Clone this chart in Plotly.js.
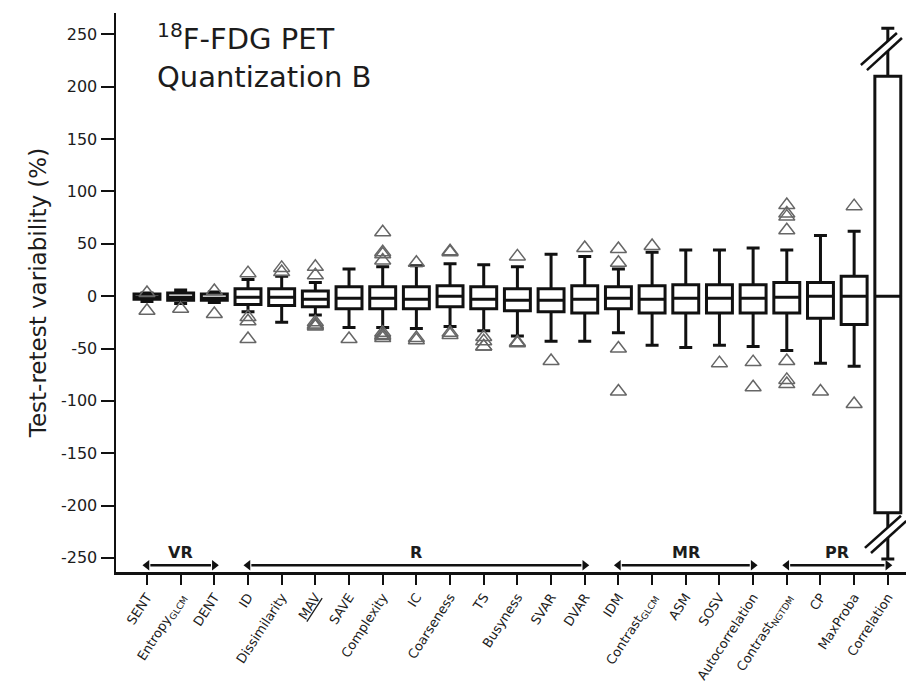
<!DOCTYPE html>
<html>
<head>
<meta charset="utf-8">
<script src="https://cdn.plot.ly/plotly-3.0.1.min.js"></script>
<style>html,body{margin:0;padding:0;background:#fff;}#chart{width:906px;height:684px;}</style>
</head>
<body>
<div id="chart"></div>
<script>
// ---- data ----
const categories = ['SENT','Entropy<sub>GLCM</sub>','DENT','ID','Dissimilarity',
  '<span style="text-decoration:underline">MAV</span>','SAVE','Complexity','IC','Coarseness','TS',
  'Busyness','SVAR','DVAR','IDM','Contrast<sub>GLCM</sub>','ASM','SOSV','Autocorrelation',
  'Contrast<sub>NGTDM</sub>','CP','MaxProba','Correlation'];
const q1Values     = [-3,-4,-4,-8,-9,-10,-12,-12,-12,-10,-12,-14,-15,-16,-12,-16,-16,-16,-16,-16,-21,-27,-207];
const medianValues = [-1,-1,-2,-1,-1,-3,-2,-2,-3,0,-3,-4,-4,-3,-2,-3,-2,-2,-2,-1,0,0,0];
const q3Values     = [2,3,2,7,7,5,9,9,9,10,9,7,7,10,9,10,11,11,11,13,13,19,210];
const lowerWhisker = [-5,-7,-6,-15,-25,-18,-30,-30,-31,-29,-33,-38,-43,-43,-35,-47,-49,-47,-48,-52,-64,-67,-251];
const upperWhisker = [3,6,4,16,19,13,26,28,29,31,30,28,40,38,26,42,44,44,46,44,58,62,256];
const outlierValues = [
  [3,-14],[-12],[5,-17],[22,-20,-24,-41],[23,27],[28,20,-25,-27,-28,-29],[-41],
  [61,42,40,34,-35,-37,-38,-40],[32,-40,-42],[43,42,-35,-37],[-39,-43,-48,-48],
  [38,-44,-45],[-62],[46],[45,32,-50,-91],[48],[],[-64],[-63,-87],
  [87,79,76,63,-62,-80,-84],[-91],[86,-103],[]
];
const groupLabels = ['VR','R','MR','PR'];
const groupStart  = [0,3,14,19];
const groupEnd    = [2,13,18,22];
const yTicks = [-250,-200,-150,-100,-50,0,50,100,150,200,250];
const yTickText = ['-250','-200','-150','-100','-50','0','50','100','150','200','250'];

// ---- build ----
const idx = categories.map((c,i)=>i);
const outX = [], outY = [];
outlierValues.forEach((arr,i)=>arr.forEach(v=>{outX.push(i);outY.push(v);}));

const FONT = 'DejaVu Sans, Verdana, sans-serif';
const INK = '#1c1c1c';
const ARROW_Y = -257;

const boxTrace = {
  type:'box', x: idx, q1: q1Values, median: medianValues, q3: q3Values,
  lowerfence: lowerWhisker, upperfence: upperWhisker,
  width: 0.77, whiskerwidth: 0.5, boxpoints: false,
  line:{color:'#111', width:3}, fillcolor:'rgba(255,255,255,1)',
  showlegend:false, hoverinfo:'skip'
};
const outTrace = {
  type:'scatter', mode:'markers', x: outX, y: outY,
  marker:{symbol:'triangle-up-open', size:14, color:'#666', line:{width:1.5, color:'#666'}},
  showlegend:false, hoverinfo:'skip'
};
const headX = [], headY = [], headSym = [];
groupStart.forEach((s,i)=>{
  headX.push(s, groupEnd[i]); headY.push(ARROW_Y, ARROW_Y);
  headSym.push('triangle-left','triangle-right');
});
const headTrace = {
  type:'scatter', mode:'markers', x: headX, y: headY,
  marker:{symbol: headSym, size:9, color:'#111', line:{width:0}},
  showlegend:false, hoverinfo:'skip', cliponaxis:false
};

const annotations = [{
  xref:'paper', yref:'paper', x:0.049, y:0.995, xanchor:'left', yanchor:'top', align:'left',
  text:'<sup>18</sup>F-FDG PET<br>Quantization B', showarrow:false,
  font:{family:FONT, size:29, color:INK}
}];
groupLabels.forEach((g,i)=>{
  annotations.push({
    xref:'x', yref:'y', x:(groupStart[i]+groupEnd[i])/2, y:-245,
    text:'<b>'+g+'</b>', showarrow:false, font:{family:FONT, size:16, color:INK}
  });
});

function brk(x1,y1,x2,y2){return {type:'line',xref:'x',yref:'y',x0:x1,y0:y1,x1:x2,y1:y2,line:{color:'#111',width:2.5},layer:'above'};}
function band(a,b,c,d){return {type:'path',xref:'x',yref:'y',layer:'above',fillcolor:'#fff',line:{width:0},
  path:`M${a[0]},${a[1]} L${b[0]},${b[1]} L${c[0]},${c[1]} L${d[0]},${d[1]} Z`};}
const shapes = [
  band([21.2,220.8],[22.27,251.4],[22.42,246.6],[21.38,216.0]),
  brk(21.2,220.8,22.27,251.4), brk(21.38,216.0,22.42,246.6),
  band([21.32,-240.5],[22.39,-209.8],[22.55,-214.7],[21.5,-245.3]),
  brk(21.32,-240.5,22.39,-209.8), brk(21.5,-245.3,22.55,-214.7)
];
groupStart.forEach((s,i)=>{
  shapes.push({type:'line',xref:'x',yref:'y',x0:s+0.1,x1:groupEnd[i]-0.1,y0:ARROW_Y,y1:ARROW_Y,
    line:{color:'#111',width:2.5}});
});

const layout = {
  width:906, height:684,
  margin:{l:116, r:0, t:13, b:112},
  paper_bgcolor:'#fff', plot_bgcolor:'#fff',
  font:{family:FONT, color:INK},
  showlegend:false,
  xaxis:{
    range:[-0.92, 22.54], tickmode:'array', tickvals: idx, ticktext: categories,
    tickangle:-57, ticks:'outside', ticklen:10, tickwidth:2, tickcolor:'#111',
    showline:true, linewidth:2.5, linecolor:'#111', showgrid:false, zeroline:false,
    tickfont:{family:FONT, size:13, color:INK}
  },
  yaxis:{
    range:[-263.5, 270.5], tickmode:'array', tickvals: yTicks, ticktext: yTickText,
    ticks:'outside', ticklen:13, tickwidth:2, tickcolor:'#111',
    showline:true, linewidth:2.5, linecolor:'#111', showgrid:false, zeroline:false,
    tickfont:{family:FONT, size:16, color:INK},
    title:{text:'Test-retest variability (%)', font:{family:FONT, size:23, color:INK}, standoff:8}
  },
  annotations: annotations,
  shapes: shapes
};
Plotly.newPlot('chart',[boxTrace,outTrace,headTrace],layout,{staticPlot:true});
</script>
</body>
</html>
